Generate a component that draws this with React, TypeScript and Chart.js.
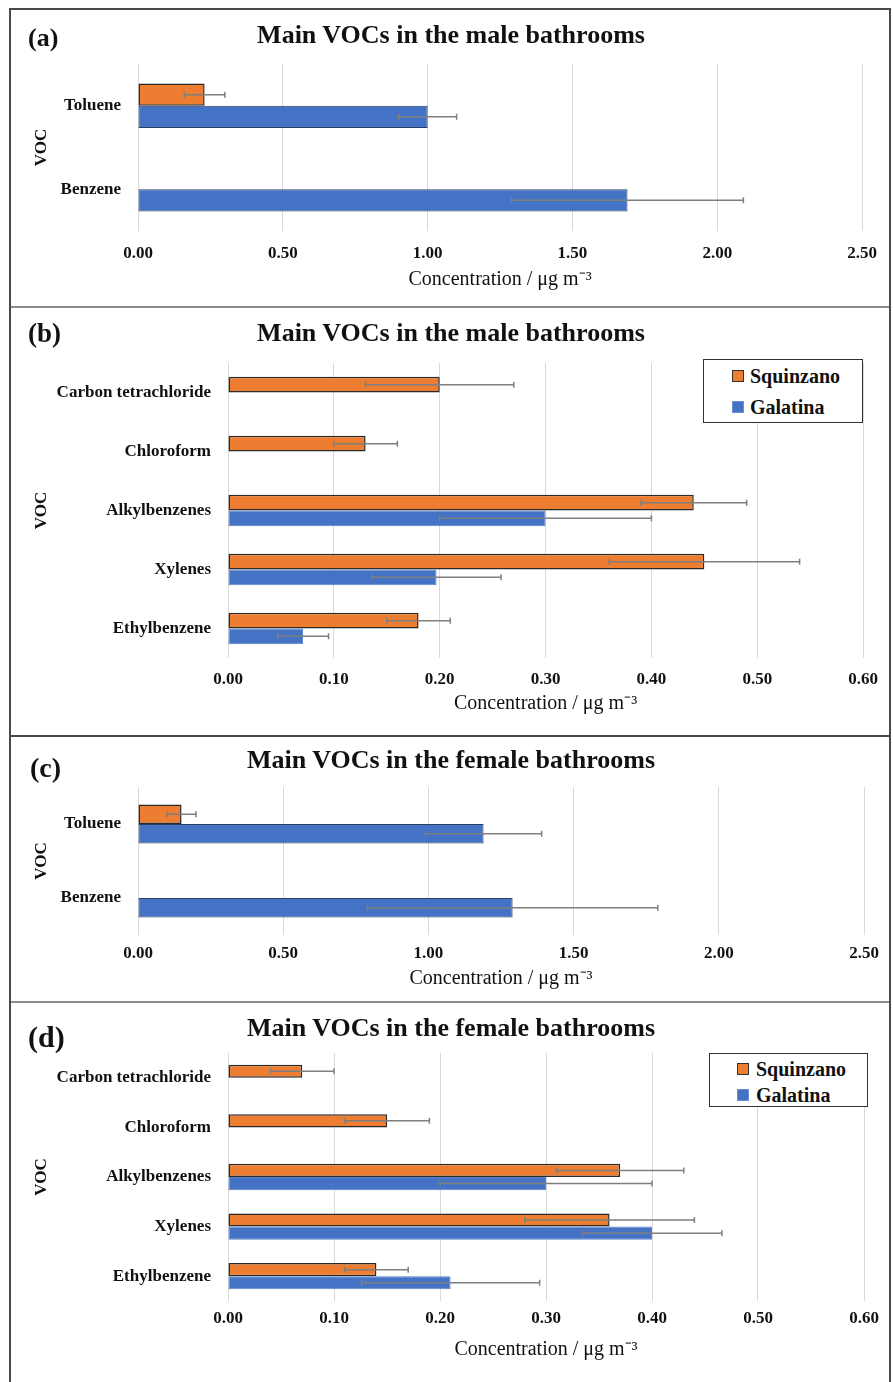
import React, { useEffect, useRef } from 'react';
import { Chart, registerables } from 'chart.js';

Chart.register(...registerables);

// ---------- DATA ----------
const vocPair = ['Toluene', 'Benzene'];
const vocFive = ['Carbon tetrachloride', 'Chloroform', 'Alkylbenzenes', 'Xylenes', 'Ethylbenzene'];
const seriesNames = ['Squinzano', 'Galatina'];

const maleAromSquinzano = [0.23, null];
const maleAromSquinzanoErr = [0.07, null];
const maleAromGalatina = [1.0, 1.69];
const maleAromGalatinaErr = [0.1, 0.4];

const maleOtherSquinzano = [0.2, 0.13, 0.44, 0.45, 0.18];
const maleOtherSquinzanoErr = [0.07, 0.03, 0.05, 0.09, 0.03];
const maleOtherGalatina = [null, null, 0.3, 0.197, 0.071];
const maleOtherGalatinaErr = [null, null, 0.1, 0.061, 0.024];

const femaleAromSquinzano = [0.15, null];
const femaleAromSquinzanoErr = [0.05, null];
const femaleAromGalatina = [1.19, 1.29];
const femaleAromGalatinaErr = [0.2, 0.5];

const femaleOtherSquinzano = [0.07, 0.15, 0.37, 0.36, 0.14];
const femaleOtherSquinzanoErr = [0.03, 0.04, 0.06, 0.08, 0.03];
const femaleOtherGalatina = [null, null, 0.3, 0.4, 0.21];
const femaleOtherGalatinaErr = [null, null, 0.1, 0.066, 0.084];

const aromAxisRange = [0, 2.5, 0.5]; // min, max, step
const otherAxisRange = [0, 0.6, 0.1];

const panelLetters = ['(a)', '(b)', '(c)', '(d)'];
const panelTitles = [
  'Main VOCs in the male bathrooms',
  'Main VOCs in the male bathrooms',
  'Main VOCs in the female bathrooms',
  'Main VOCs in the female bathrooms',
];
const xAxisTitle = 'Concentration / \u03bcg m\u207b\u00b3';
const yAxisTitle = 'VOC';

// ---------- STYLE ----------
const FONT = "'Liberation Serif', 'Times New Roman', serif";
const ORANGE = '#ED7D31';
const BLUE = '#4472C4';
const CANVAS_LEFT = 12;
const CANVAS_W = 877;

const panels = [
  {
    top: 10, height: 296, labels: vocPair,
    sq: maleAromSquinzano, sqErr: maleAromSquinzanoErr, ga: maleAromGalatina, gaErr: maleAromGalatinaErr,
    range: aromAxisRange, yWidth: 126, padTop: 54, tickPad: 12, xHeight: 61, padBottom: 14,
    blueBorder: '#2b3f66',
    titleY: 35, letterX: 28, letterY: 38, letterSize: 26, legend: null,
  },
  {
    top: 309, height: 426, labels: vocFive,
    sq: maleOtherSquinzano, sqErr: maleOtherSquinzanoErr, ga: maleOtherGalatina, gaErr: maleOtherGalatinaErr,
    range: otherAxisRange, yWidth: 216, padTop: 54, tickPad: 11, xHeight: 58, padBottom: 19,
    blueBorder: '#5a82c8',
    titleY: 333, letterX: 28, letterY: 333, letterSize: 27,
    legend: { left: 703, top: 359, width: 160, height: 64, markerX: 28, textX: 46, rows: [16, 47] },
  },
  {
    top: 738, height: 263, labels: vocPair,
    sq: femaleAromSquinzano, sqErr: femaleAromSquinzanoErr, ga: femaleAromGalatina, gaErr: femaleAromGalatinaErr,
    range: aromAxisRange, yWidth: 126, padTop: 49, tickPad: 8, xHeight: 56, padBottom: 10,
    blueBorder: '#2b3f66',
    titleY: 760, letterX: 30, letterY: 768, letterSize: 28, legend: null,
  },
  {
    top: 1004, height: 378, labels: vocFive,
    sq: femaleOtherSquinzano, sqErr: femaleOtherSquinzanoErr, ga: femaleOtherGalatina, gaErr: femaleOtherGalatinaErr,
    range: otherAxisRange, yWidth: 216, padTop: 49, tickPad: 7, xHeight: 61, padBottom: 20,
    blueBorder: '#5a82c8',
    titleY: 1028, letterX: 28, letterY: 1037, letterSize: 30,
    legend: { left: 709, top: 1053, width: 159, height: 54, markerX: 27, textX: 46, rows: [15, 41] },
  },
];

const errorBarPlugin = {
  id: 'errorBars',
  afterDatasetsDraw(chart: any) {
    const ctx = chart.ctx;
    const xScale = chart.scales.x;
    chart.data.datasets.forEach((ds: any, i: number) => {
      const meta = chart.getDatasetMeta(i);
      const errs = ds.errors || [];
      meta.data.forEach((el: any, j: number) => {
        const v = ds.data[j];
        const e = errs[j];
        if (v == null || e == null) return;
        const x1 = xScale.getPixelForValue(v - e);
        const x2 = xScale.getPixelForValue(v + e);
        const y = el.y;
        ctx.save();
        ctx.strokeStyle = '#7f7f7f';
        ctx.lineWidth = 1.5;
        ctx.beginPath();
        ctx.moveTo(x1, y);
        ctx.lineTo(x2, y);
        ctx.moveTo(x1, y - 3);
        ctx.lineTo(x1, y + 3);
        ctx.moveTo(x2, y - 3);
        ctx.lineTo(x2, y + 3);
        ctx.stroke();
        ctx.restore();
      });
    });
  },
};

function Panel({ p, idx }: { p: any; idx: number }) {
  const ref = useRef<HTMLCanvasElement | null>(null);
  useEffect(() => {
    if (!ref.current) return;
    const chart = new Chart(ref.current, {
      type: 'bar',
      data: {
        labels: p.labels,
        datasets: [
          {
            label: seriesNames[0],
            data: p.sq,
            errors: p.sqErr,
            backgroundColor: ORANGE,
            borderColor: '#2a2a2a',
            borderWidth: 1.5,
            borderSkipped: false,
            categoryPercentage: 0.53,
            barPercentage: 1.0,
          } as any,
          {
            label: seriesNames[1],
            data: p.ga,
            errors: p.gaErr,
            backgroundColor: BLUE,
            borderColor: p.blueBorder,
            borderWidth: 1,
            borderSkipped: false,
            categoryPercentage: 0.53,
            barPercentage: 1.0,
          } as any,
        ],
      },
      options: {
        indexAxis: 'y',
        responsive: false,
        animation: false,
        devicePixelRatio: window.devicePixelRatio || 1,
        layout: { padding: { top: p.padTop, left: 0, right: 25, bottom: p.padBottom } },
        plugins: {
          legend: { display: false },
          tooltip: { enabled: false },
          title: { display: false },
        },
        scales: {
          x: {
            type: 'linear',
            min: p.range[0],
            max: p.range[1],
            afterFit: (s: any) => { s.height = p.xHeight; },
            ticks: {
              stepSize: p.range[2],
              padding: p.tickPad,
              color: '#111',
              font: { family: FONT, size: 17, weight: 'bold' },
              callback: (v: any) => Number(v).toFixed(2),
              maxRotation: 0,
            },
            grid: { color: '#d9d9d9', lineWidth: 1, drawTicks: false },
            border: { display: false },
            title: {
              display: true,
              text: xAxisTitle,
              color: '#111',
              font: { family: FONT, size: 20, weight: 'normal' },
              padding: { top: 0, bottom: 0 },
            },
          },
          y: {
            type: 'category',
            afterFit: (s: any) => { s.width = p.yWidth; },
            ticks: {
              padding: 9,
              color: '#111',
              font: { family: FONT, size: 17, weight: 'bold' },
            },
            grid: { display: false },
            border: { display: false },
            title: {
              display: true,
              text: yAxisTitle,
              color: '#111',
              font: { family: FONT, size: 17, weight: 'bold' },
              padding: { top: 19, bottom: 0 },
            },
          },
        },
      } as any,
      plugins: [errorBarPlugin],
    });
    return () => chart.destroy();
  }, []);

  const lg = p.legend;
  return (
    <>
      <canvas
        ref={ref}
        width={CANVAS_W}
        height={p.height}
        style={{ position: 'absolute', left: CANVAS_LEFT, top: p.top, width: CANVAS_W, height: p.height }}
      />
      <div
        style={{
          position: 'absolute', left: 451, top: p.titleY - 16, transform: 'translateX(-50%)',
          fontFamily: FONT, fontWeight: 'bold', fontSize: 26, lineHeight: '32px', whiteSpace: 'nowrap', color: '#111',
        }}
      >
        {panelTitles[idx]}
      </div>
      <div
        style={{
          position: 'absolute', left: p.letterX, top: p.letterY - p.letterSize * 0.6,
          fontFamily: FONT, fontWeight: 'bold', fontSize: p.letterSize, lineHeight: `${p.letterSize * 1.2}px`, color: '#111',
        }}
      >
        {panelLetters[idx]}
      </div>
      {lg && (
        <div
          style={{
            position: 'absolute', left: lg.left, top: lg.top, width: lg.width, height: lg.height,
            border: '1.5px solid #333', boxSizing: 'border-box', background: '#fff',
          }}
        >
          {seriesNames.map((n, i) => (
            <React.Fragment key={n}>
              <div
                style={{
                  position: 'absolute', left: lg.markerX, top: lg.rows[i] - 6, width: 12, height: 12,
                  background: i === 0 ? ORANGE : BLUE, boxSizing: 'border-box',
                  border: i === 0 ? '1px solid #333' : '1px solid #6b8fd0',
                }}
              />
              <div
                style={{
                  position: 'absolute', left: lg.textX, top: lg.rows[i] - 12, lineHeight: '24px',
                  fontFamily: FONT, fontWeight: 'bold', fontSize: 20, color: '#111', whiteSpace: 'nowrap',
                }}
              >
                {n}
              </div>
            </React.Fragment>
          ))}
        </div>
      )}
    </>
  );
}

export default function App() {
  const lineDark = '#4a4a4a';
  const lineSep = '#8c8c8c';
  return (
    <div style={{ position: 'absolute', left: 0, top: 0, width: 893, height: 1382, background: '#fff', overflow: 'hidden' }}>
      {/* frame */}
      <div style={{ position: 'absolute', left: 9, top: 8, width: 2, height: 1374, background: lineDark }} />
      <div style={{ position: 'absolute', left: 889, top: 8, width: 2, height: 1374, background: lineDark }} />
      <div style={{ position: 'absolute', left: 9, top: 8, width: 882, height: 2, background: lineDark }} />
      <div style={{ position: 'absolute', left: 11, top: 306, width: 878, height: 2, background: lineSep }} />
      <div style={{ position: 'absolute', left: 11, top: 735, width: 878, height: 2, background: lineDark }} />
      <div style={{ position: 'absolute', left: 11, top: 1001, width: 878, height: 2, background: lineSep }} />
      {panels.map((p, i) => (
        <Panel key={i} p={p} idx={i} />
      ))}
    </div>
  );
}
